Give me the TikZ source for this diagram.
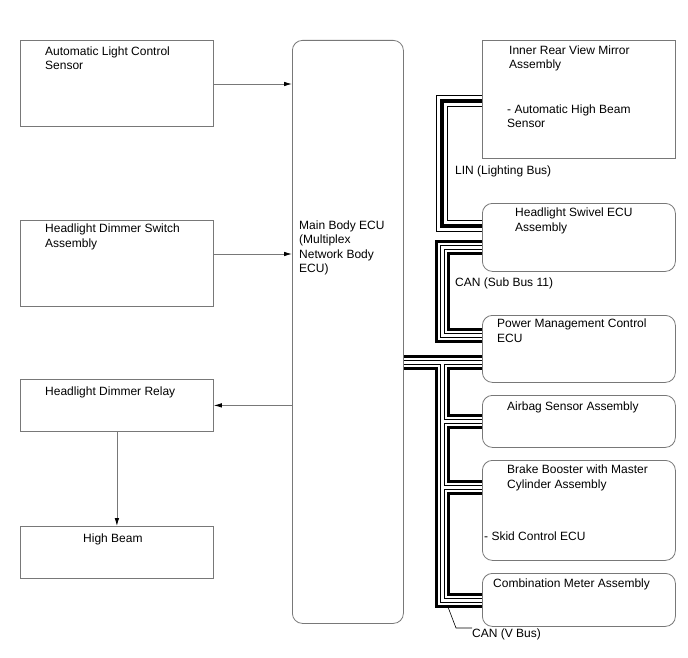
\documentclass[tikz,border=0pt]{standalone}
\usepackage{fontspec}
\setmainfont{Liberation Sans}
\usetikzlibrary{arrows.meta}
\definecolor{boxgray}{RGB}{120,120,120}
\begin{document}
\begin{tikzpicture}[x=1pt,y=-1pt,
  box/.style={draw=boxgray, fill=white, line width=0.8pt, anchor=north west, inner sep=0pt},
  rbox/.style={box, rounded corners=10pt},
  txt/.style={anchor=base west, inner sep=0pt, align=left, font=\fontsize{12}{14.5}\selectfont},
  sig/.style={draw=boxgray, line width=0.8pt, -{Latex[length=8pt,width=4.5pt,color=black]}},
  leader/.style={draw=black, line width=0.6pt}
]
\useasboundingbox (0,0) rectangle (688,658);
\fill[white] (0,0) rectangle (688,658);

% cable end points
\coordinate (linA) at (482,101);
\coordinate (linB) at (482,226);
\coordinate (subA) at (482,247);
\coordinate (subB) at (482,335);
\coordinate (vS)  at (403,362);
\coordinate (vJ0) at (442,362);
\coordinate (vJ1) at (442,421);
\coordinate (vJ2) at (442,487);
\coordinate (vPM) at (482,362);
\coordinate (vAB) at (482,421);
\coordinate (vBB) at (482,487);
\coordinate (vCM) at (482,600);

% LIN bus: thin - thick - thin
\foreach \w/\c in {12/black, 10/white, 4/black} {
  \draw[line width=\w pt, draw=\c, line join=miter] (linA) -| (442,226) -- (linB);
}
% CAN buses: thick - thin - thin - thick
\foreach \w/\c in {15/black, 9/white, 5/black, 3/white} {
  \draw[line width=\w pt, draw=\c, line join=miter] (subA) -| (442,335) -- (subB);
  \draw[line width=\w pt, draw=\c, line join=miter] (vS) -- (vJ0) |- (vCM);
  \draw[line width=\w pt, draw=\c] (vJ0) -- (vPM);
  \draw[line width=\w pt, draw=\c] (vJ1) -- (vAB);
  \draw[line width=\w pt, draw=\c] (vJ2) -- (vBB);
}

% left column
\node[box, minimum width=193pt, minimum height=86pt] (alc) at (20,40) {};
\node[txt] (alct) at (45,70) {Automatic Light Control\\Sensor};
\node[box, minimum width=193pt, minimum height=86pt] (hds) at (20,220) {};
\node[txt] (hdst) at (45,247) {Headlight Dimmer Switch\\Assembly};
\node[box, minimum width=193pt, minimum height=52pt] (relay) at (20,379) {};
\node[txt] (relayt) at (45,395) {Headlight Dimmer Relay};
\node[box, minimum width=193pt, minimum height=52pt] (hb) at (20,526) {};
\node[txt] (hbt) at (83,542.5) {High Beam};

% main ECU
\node[rbox, minimum width=111pt, minimum height=583pt] (ecu) at (292,40) {};
\node[txt] (ecut) at (299,272.5) {Main Body ECU\\(Multiplex\\Network Body\\ECU)};

% right column
\node[box, minimum width=193pt, minimum height=118pt] (mir) at (482,40) {};
\node[txt] (mirt) at (509,69) {Inner Rear View Mirror\\Assembly};
\node[txt] (mirt2) at (507,128) {- Automatic High Beam\\Sensor};
\node[rbox, minimum width=193pt, minimum height=68pt] (swv) at (482,203) {};
\node[txt] (swvt) at (515,231) {Headlight Swivel ECU\\Assembly};
\node[rbox, minimum width=193pt, minimum height=67pt] (pm) at (482,315) {};
\node[txt] (pmt) at (497,342) {Power Management Control\\ECU};
\node[rbox, minimum width=193pt, minimum height=52pt] (ab) at (482,395) {};
\node[txt] (abt) at (507,410.5) {Airbag Sensor Assembly};
\node[rbox, minimum width=193pt, minimum height=100pt] (bb) at (482,460) {};
\node[txt] (bbt) at (507,488) {Brake Booster with Master\\Cylinder Assembly};
\node[txt] (bbt2) at (484,540.5) {- Skid Control ECU};
\node[rbox, minimum width=193pt, minimum height=53pt] (cm) at (482,573) {};
\node[txt] (cmt) at (493,587.5) {Combination Meter Assembly};

% bus labels
\node[txt] (linl) at (455,174.5) {LIN (Lighting Bus)};
\node[txt] (subl) at (455,286.5) {CAN (Sub Bus 11)};
\node[txt] (vl) at (472,637.5) {CAN (V Bus)};
\coordinate (vlA) at (448,607);
\draw[leader] (vlA) -- (456,628) -- (vl.west |- 0,628);

% signal arrows
\draw[sig] (alc.east |- 0,84) -- (ecu.west |- 0,84);
\draw[sig] (hds.east |- 0,254) -- (ecu.west |- 0,254);
\draw[sig] (ecu.west |- relay.east) -- (relay.east);
\draw[sig] (relay.south) -- (hb.north);
\end{tikzpicture}
\end{document}
